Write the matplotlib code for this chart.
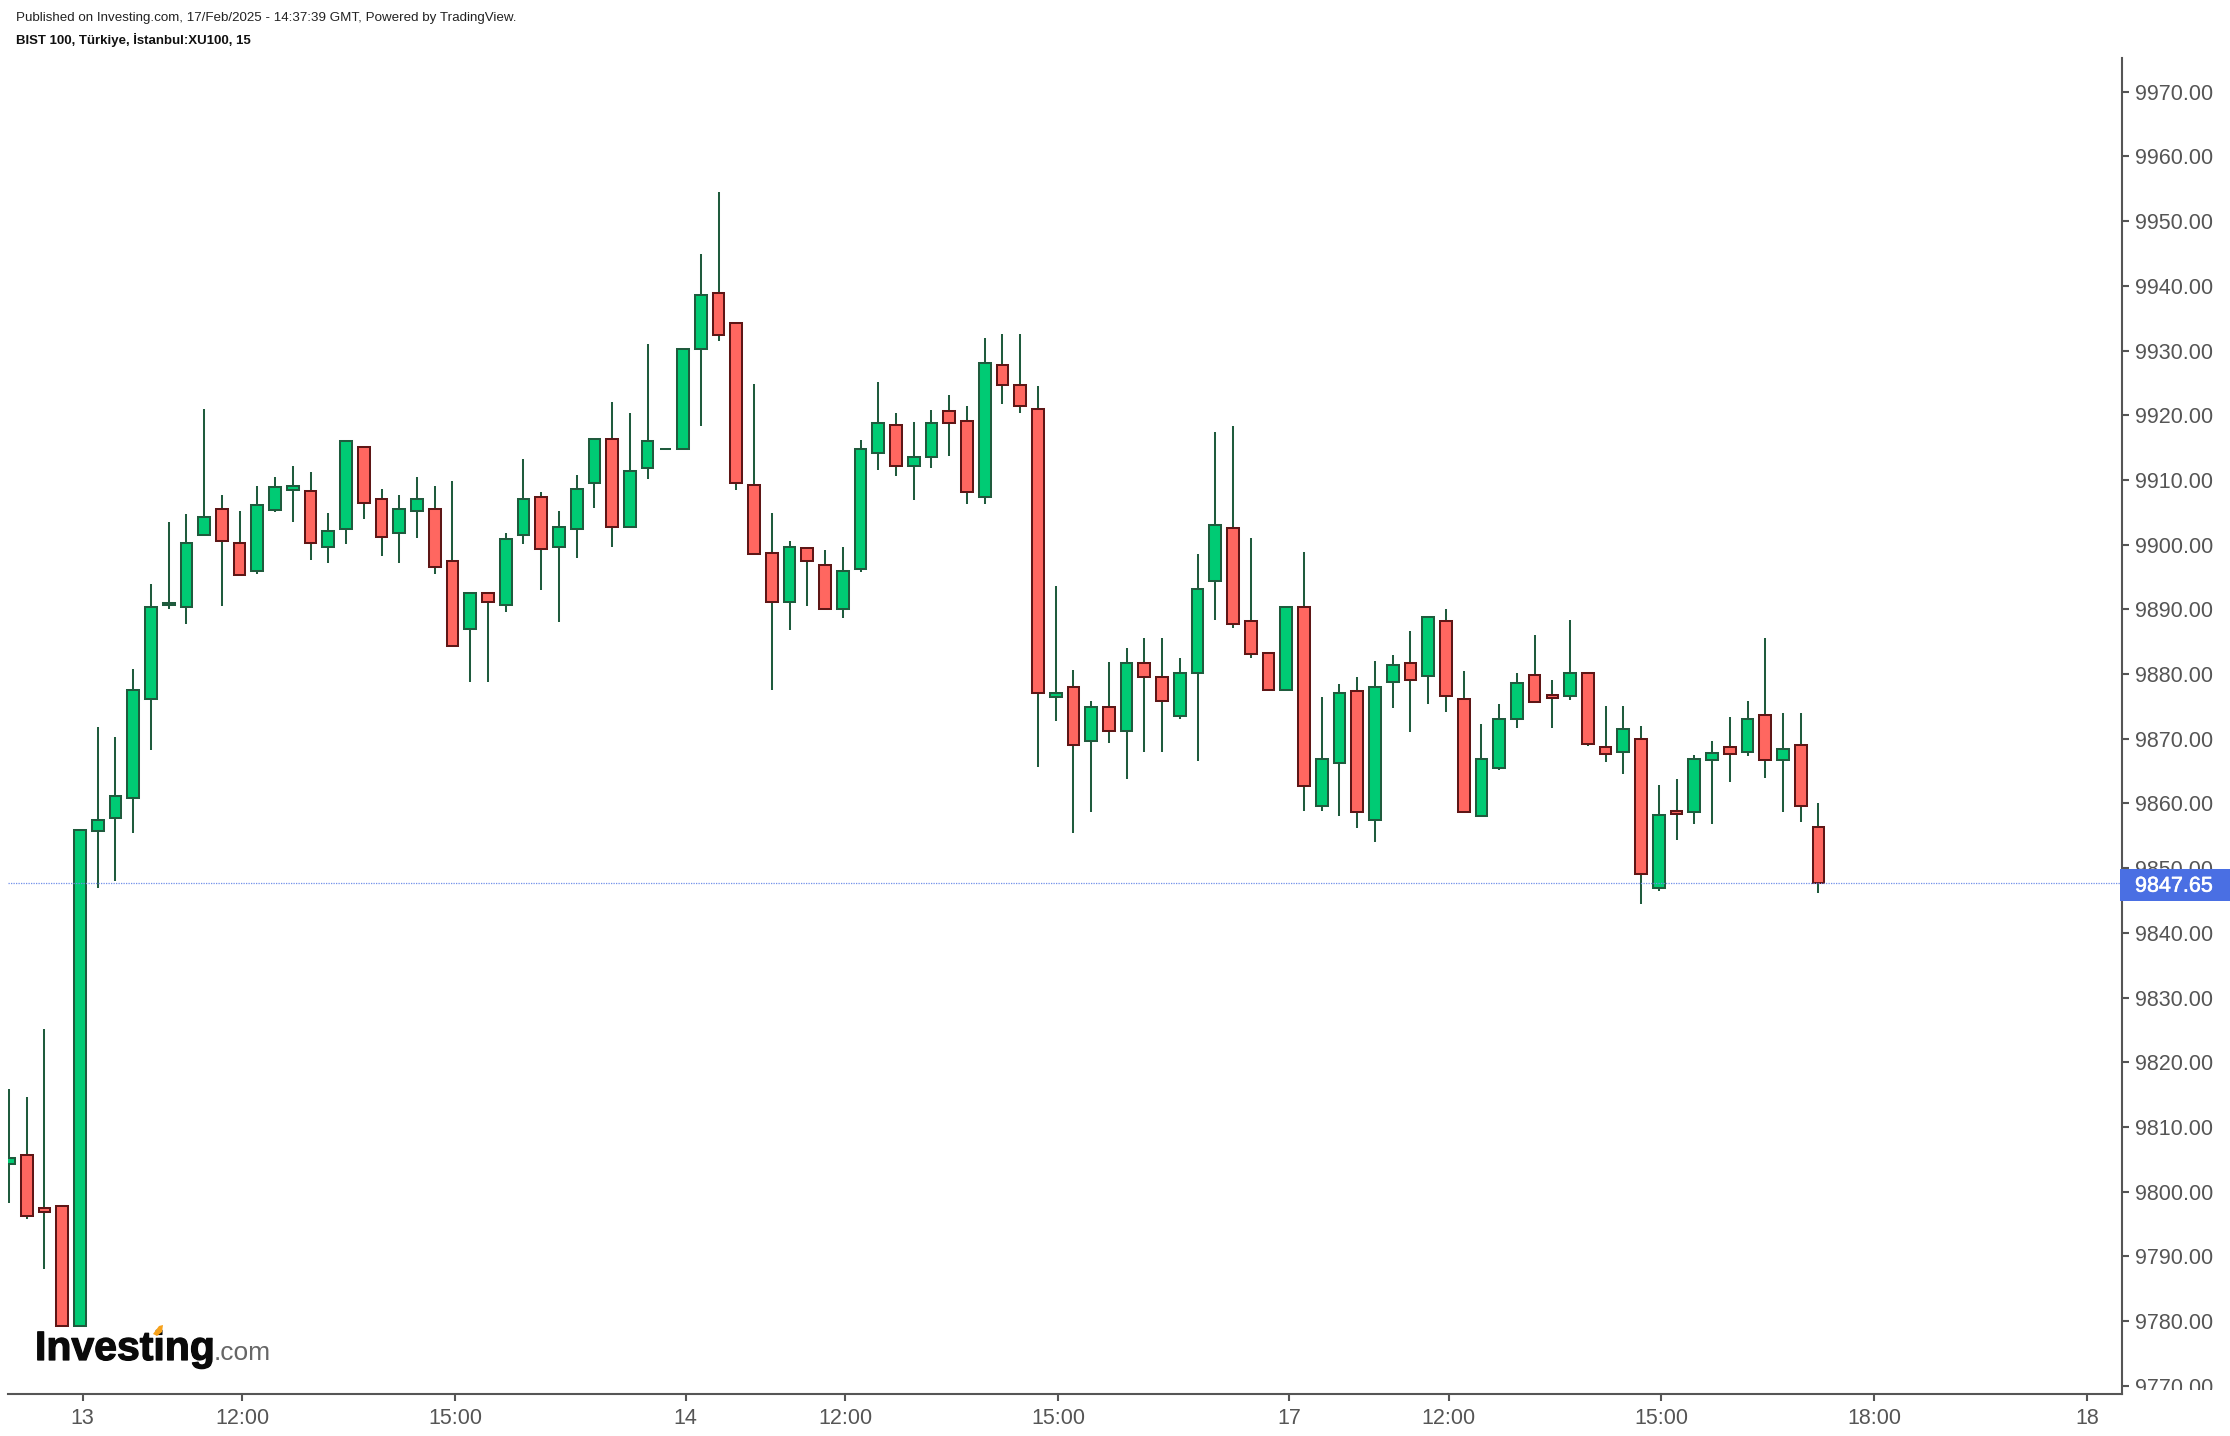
import matplotlib
matplotlib.use("Agg")
import matplotlib.pyplot as plt
import matplotlib.patheffects as pe
from matplotlib.patches import Rectangle, Polygon
from matplotlib.transforms import Bbox, blended_transform_factory

plt.rcParams['font.family'] = ['Liberation Sans', 'DejaVu Sans']

opens = [9804.2,9805.6,9797.5,9797.8,9779.2,9855.8,9857.7,9860.8,9876.1,9890.6,
         9890.3,9901.5,9905.5,9900.3,9895.9,9905.4,9908.5,9908.3,9899.6,9902.4,
         9915.1,9907.0,9901.8,9905.2,9905.5,9897.4,9886.9,9892.5,9890.6,9901.5,
         9907.4,9899.6,9902.4,9909.5,9916.3,9902.7,9911.9,9914.8,9914.8,9930.2,
         9938.9,9934.3,9909.25,9898.7,9891.2,9899.4,9896.8,9890.0,9896.2,9914.1,
         9918.5,9912.2,9913.6,9920.7,9919.1,9907.3,9927.8,9924.7,9921.0,9876.4,
         9878.0,9869.7,9874.9,9871.2,9881.7,9879.5,9873.5,9880.1,9894.3,9902.5,
         9888.2,9883.2,9877.6,9890.4,9859.6,9866.2,9877.4,9857.5,9878.8,9881.7,
         9879.7,9888.2,9876.1,9858.0,9865.5,9873.0,9879.8,9876.8,9876.6,9880.1,
         9868.7,9868.0,9869.9,9846.9,9858.8,9858.7,9866.7,9868.7,9868.0,9873.6,
         9866.7,9869.0,9856.3]
highs = [9815.8,9814.6,9825.1,9797.8,9855.9,9871.8,9870.3,9880.8,9893.9,9903.5,
         9904.7,9921.0,9907.7,9905.2,9909.1,9910.5,9912.1,9911.2,9904.9,9916.0,
         9915.1,9908.6,9907.7,9910.5,9909.0,9909.9,9892.5,9892.5,9901.8,9913.3,
         9908.1,9905.2,9910.8,9916.3,9922.0,9920.4,9931.0,9914.8,9930.2,9944.9,
         9954.5,9934.3,9924.8,9904.9,9900.6,9899.7,9899.1,9899.7,9916.1,9925.1,
         9920.4,9918.9,9920.8,9923.2,9921.4,9932.0,9932.5,9932.5,9924.5,9893.6,
         9880.6,9875.9,9881.8,9884.0,9885.5,9885.5,9882.4,9898.5,9917.4,9918.3,
         9901.0,9883.2,9890.4,9898.8,9876.5,9878.4,9879.6,9882.0,9883.0,9886.7,
         9888.8,9890.1,9880.5,9872.2,9875.3,9880.2,9886.1,9879.0,9888.3,9880.1,
         9875.0,9875.0,9871.9,9862.9,9863.8,9867.5,9869.7,9873.4,9875.9,9885.5,
         9874.0,9874.0,9860.1]
lows = [9798.3,9795.8,9788.1,9779.2,9779.2,9846.9,9848.0,9855.5,9868.2,9890.0,
        9887.8,9901.5,9890.5,9895.3,9895.5,9905.1,9903.5,9897.6,9897.1,9900.1,
        9903.9,9898.3,9897.1,9901.0,9895.5,9884.4,9878.8,9878.8,9889.6,9900.1,
        9893.0,9888.0,9898.0,9905.7,9899.6,9902.7,9910.1,9914.8,9914.8,9918.4,
        9931.4,9908.5,9898.6,9877.5,9886.8,9890.5,9890.0,9888.7,9895.8,9911.6,
        9910.6,9906.9,9911.9,9913.7,9906.3,9906.3,9921.8,9920.3,9865.7,9872.7,
        9855.4,9858.7,9869.4,9863.7,9868.0,9868.0,9873.0,9866.6,9888.4,9887.1,
        9882.5,9877.6,9877.6,9858.9,9858.9,9858.0,9856.2,9854.0,9874.7,9871.0,
        9875.4,9874.1,9858.7,9858.0,9865.1,9871.6,9875.7,9871.6,9876.0,9868.9,
        9866.4,9864.5,9844.4,9846.5,9854.3,9856.8,9856.8,9863.3,9867.3,9863.9,
        9858.6,9857.1,9846.2]
closes = [9805.2,9796.2,9796.8,9779.2,9855.9,9857.4,9861.2,9877.6,9890.3,9891.0,
          9900.3,9904.2,9900.5,9895.3,9906.1,9908.9,9909.0,9900.2,9902.1,9916.0,
          9906.4,9901.1,9905.5,9907.0,9896.5,9884.4,9892.5,9891.2,9900.8,9907.0,
          9899.3,9902.7,9908.6,9916.3,9902.7,9911.4,9916.0,9914.8,9930.2,9938.6,
          9932.4,9909.5,9898.6,9891.2,9899.6,9897.4,9890.0,9895.9,9914.8,9918.8,
          9912.2,9913.6,9918.8,9918.8,9908.2,9928.1,9924.6,9921.5,9877.0,9877.0,
          9869.0,9874.9,9871.2,9881.7,9879.5,9875.8,9880.1,9893.2,9903.1,9887.8,
          9883.1,9877.6,9890.4,9862.7,9866.8,9877.0,9858.7,9878.0,9881.4,9879.1,
          9888.8,9876.6,9858.7,9866.8,9873.0,9878.6,9875.7,9876.3,9880.1,9869.2,
          9867.7,9871.5,9849.1,9858.2,9858.4,9866.8,9867.8,9867.7,9873.0,9866.7,
          9868.4,9859.6,9847.65]

last_price = 9847.65
y_ticks = list(range(9770, 9971, 10))
x_tick_bars = [4, 13, 25, 38, 47, 59, 72, 81, 93, 105, 117]
x_tick_labels = ['13', '12:00', '15:00', '14', '12:00', '15:00', '17', '12:00', '15:00', '18:00', '18']

W, H = 2230, 1436
AXL, AXR, AXT, AXB = 8, 2122, 58, 1394
GREY = '#555555'
UP_FILL, UP_EDGE = '#00CB74', '#1F5B3D'
DN_FILL, DN_EDGE = '#FF6760', '#5E1616'

fig = plt.figure(figsize=(W / 100, H / 100), dpi=100, facecolor='white')
ax = fig.add_axes([AXL / W, 1 - AXB / H, (AXR - AXL) / W, (AXB - AXT) / H])
ax.set_facecolor('white')
ax.set_xlim(-0.056, 119.11)
ax.set_ylim(9768.72, 9975.21)

xs = list(range(len(opens)))
ax.vlines(xs, lows, highs, color=UP_EDGE, linewidth=1.45, zorder=2)
bottoms = [min(o, c) for o, c in zip(opens, closes)]
heights = [abs(c - o) for o, c in zip(opens, closes)]
fills = [UP_FILL if c >= o else DN_FILL for o, c in zip(opens, closes)]
edges = [UP_EDGE if c >= o else DN_EDGE for o, c in zip(opens, closes)]
ax.bar(xs, heights, bottom=bottoms, width=0.66, color=fills, edgecolor=edges,
       linewidth=1.45, zorder=3)

ax.axhline(last_price, color='#6F8FEA', linewidth=0.9, linestyle=(0, (1, 1)), zorder=4)

for s in ('top', 'left'):
    ax.spines[s].set_visible(False)
for s in ('right', 'bottom'):
    ax.spines[s].set_color(GREY)
    ax.spines[s].set_linewidth(1.5)

ax.yaxis.tick_right()
ax.set_yticks(y_ticks)
ax.set_yticklabels([f'{v:.2f}' for v in y_ticks])
ax.set_xticks([b + 0.15 for b in x_tick_bars])
ax.set_xticklabels(x_tick_labels)
ax.tick_params(axis='y', length=4.8, width=1.5, color=GREY, labelcolor=GREY,
               labelsize=15.5, pad=4.5)
ax.tick_params(axis='x', length=4.8, width=1.5, color=GREY, labelcolor=GREY,
               labelsize=15.5, pad=5)

clip = Bbox.from_extents(AXR, H - 1390, W, H - AXT)
for t in ax.get_yticklabels():
    t.set_clip_box(clip)
    t.set_clip_on(True)

# last-price flag
tr = blended_transform_factory(fig.transFigure, ax.transData)
box_h = 32 / 6.47
fig.add_artist(Rectangle((2120 / W, last_price - box_h / 2 - 0.2), 110 / W, box_h, transform=tr,
                         facecolor='#4A6FE3', edgecolor='none', zorder=5))
fig.add_artist(plt.Text(2135 / W, last_price - 0.45, f'{last_price:.2f}', transform=tr, color='white',
                        fontsize=15.5, va='center', ha='left', zorder=6,
                        path_effects=[pe.withStroke(linewidth=0.4, foreground='white')]))

# header
fig.text(16 / W, 1 - 17.5 / H, 'Published on Investing.com, 17/Feb/2025 - 14:37:39 GMT, Powered by TradingView.',
         fontsize=9.6, color='#222222', va='center', ha='left')
fig.text(15.5 / W, 1 - 40 / H, 'BIST 100, Türkiye, İstanbul:XU100, 15',
         fontsize=9.5, fontweight='bold', color='#111111', va='center', ha='left')

# logo
fig.text(35 / W, 1 - 1360 / H, 'Investing', fontsize=29.5, fontweight='bold', color='#0A0A0A',
         va='baseline', ha='left', zorder=6,
         path_effects=[pe.withStroke(linewidth=0.9, foreground='#0A0A0A')])
fig.text(214 / W, 1 - 1360 / H, '.com', fontsize=19, color='#666666', va='baseline', ha='left', zorder=6)
fig.add_artist(Polygon([(153 / W, 1 - 1334 / H), (159 / W, 1 - 1326 / H), (163 / W, 1 - 1325 / H),
                        (162 / W, 1 - 1332 / H), (157 / W, 1 - 1336 / H)],
                       closed=True, transform=fig.transFigure, facecolor='#F7A11A', edgecolor='none', zorder=7))

fig.savefig('out.png', dpi=100, facecolor='white')
